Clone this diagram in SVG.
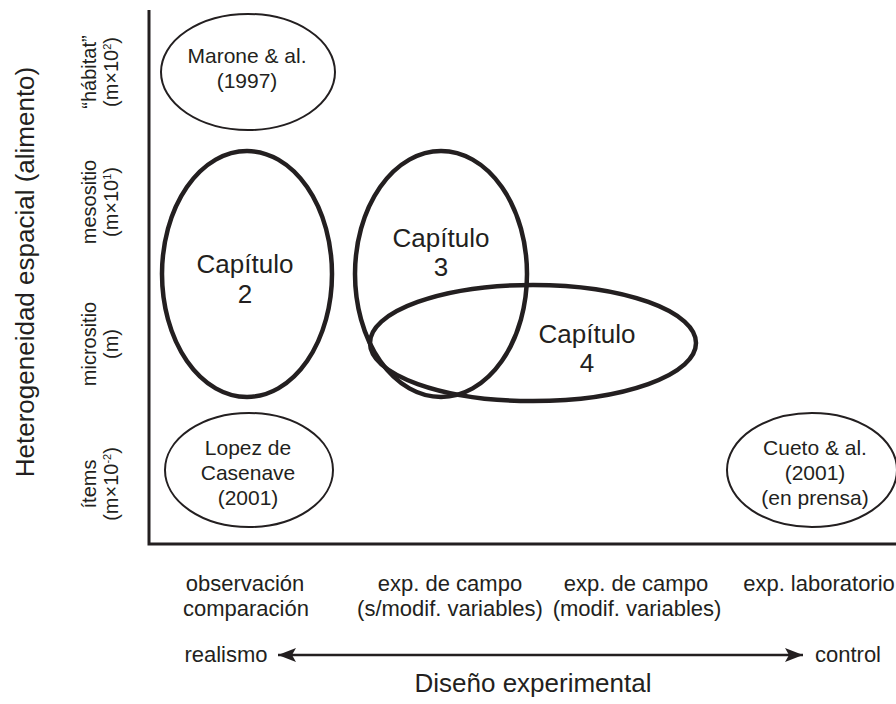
<svg xmlns="http://www.w3.org/2000/svg" width="896" height="704" viewBox="0 0 896 704">
<defs>
<style>
text{font-family:"Liberation Sans",Arial,sans-serif;fill:#231f20;text-anchor:middle}
.t21{font-size:21px}
.t26{font-size:26px}
.t22{font-size:22px}
.ax{font-size:20px}
.thin{fill:none;stroke:#231f20;stroke-width:2}
.thick{fill:none;stroke:#231f20;stroke-width:4.5}
.axis{fill:none;stroke:#231f20;stroke-width:3}
</style>
<marker id="ah" viewBox="0 0 18 14" refX="18" refY="7" markerWidth="18" markerHeight="14" markerUnits="userSpaceOnUse" orient="auto-start-reverse">
<path d="M0,0 L18,7 L0,14 L4,7 Z" fill="#231f20"/>
</marker>
</defs>
<rect width="896" height="704" fill="#fff"/>

<g id="axes">
<path class="axis" d="M149,10 V544 H896"/>
</g>

<g id="y-labels">
<text class="t26" transform="translate(34,272) rotate(-90)">Heterogeneidad espacial (alimento)</text>
<text class="ax" transform="translate(96,72) rotate(-90)">“hábitat”</text>
<text class="ax" transform="translate(118,72) rotate(-90)">(m×10<tspan font-size="11" dy="-7">2</tspan><tspan dy="7">)</tspan></text>
<text class="ax" transform="translate(96,202) rotate(-90)">mesositio</text>
<text class="ax" transform="translate(118,202) rotate(-90)">(m×10<tspan font-size="11" dy="-7">1</tspan><tspan dy="7">)</tspan></text>
<text class="ax" transform="translate(96,344) rotate(-90)">micrositio</text>
<text class="ax" transform="translate(118,344) rotate(-90)">(m)</text>
<text class="ax" transform="translate(96,484) rotate(-90)">ítems</text>
<text class="ax" transform="translate(118,484) rotate(-90)">(m×10<tspan font-size="11" dy="-7">-2</tspan><tspan dy="7">)</tspan></text>
</g>

<g id="marone">
<ellipse class="thin" cx="248" cy="72" rx="87" ry="58"/>
<text class="t21" x="247" y="63">Marone &amp; al.</text>
<text class="t21" x="247" y="88">(1997)</text>
</g>

<g id="cap2">
<ellipse class="thick" cx="247" cy="274" rx="85" ry="123"/>
<text class="t26" x="245" y="273">Capítulo</text>
<text class="t26" x="245" y="303">2</text>
</g>

<g id="cap3">
<ellipse class="thick" cx="441" cy="274" rx="86" ry="123"/>
<text class="t26" x="441" y="247">Capítulo</text>
<text class="t26" x="441" y="276">3</text>
</g>

<g id="cap4">
<ellipse class="thick" cx="533" cy="343" rx="163" ry="58"/>
<text class="t26" x="587" y="343">Capítulo</text>
<text class="t26" x="587" y="372">4</text>
</g>

<g id="lopez">
<ellipse class="thin" cx="249" cy="470" rx="84" ry="57"/>
<text class="t21" x="248" y="455">Lopez de</text>
<text class="t21" x="248" y="480">Casenave</text>
<text class="t21" x="248" y="505">(2001)</text>
</g>

<g id="cueto">
<ellipse class="thin" cx="812" cy="470" rx="85" ry="57"/>
<text class="t21" x="815" y="455">Cueto &amp; al.</text>
<text class="t21" x="815" y="480">(2001)</text>
<text class="t21" x="815" y="505">(en prensa)</text>
</g>

<g id="x-labels">
<text class="t22" x="245" y="591">observación</text>
<text class="t22" x="246" y="616">comparación</text>
<text class="t22" x="450" y="591">exp. de campo</text>
<text class="t22" x="450" y="616">(s/modif. variables)</text>
<text class="t22" x="636" y="591">exp. de campo</text>
<text class="t22" x="637" y="616">(modif. variables)</text>
<text class="t22" x="819" y="591">exp. laboratorio</text>
<text class="t22" x="226" y="662">realismo</text>
<text class="t22" x="848" y="662">control</text>
<text class="t26" x="533" y="692">Diseño experimental</text>
</g>

<g id="connectors">
<line x1="278" y1="655" x2="803" y2="655" stroke="#231f20" stroke-width="2.5" marker-start="url(#ah)" marker-end="url(#ah)"/>
</g>
</svg>
